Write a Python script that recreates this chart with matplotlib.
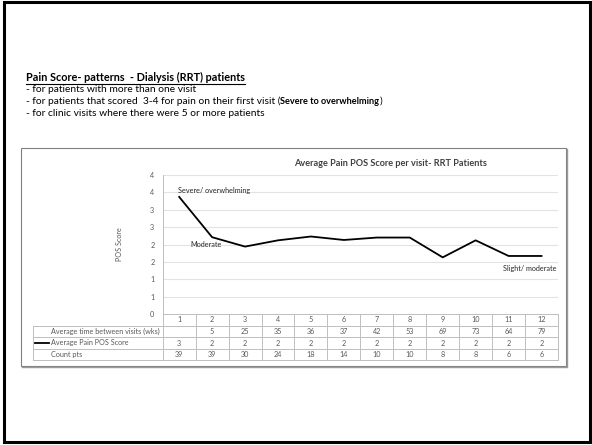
import numpy as np
import matplotlib.pyplot as plt
import matplotlib.transforms as mtransforms
from matplotlib.patches import Rectangle

visits = list(range(1, 13))
pain_score = [3.37, 2.21, 1.94, 2.12, 2.23, 2.13, 2.20, 2.20, 1.63, 2.12, 1.67, 1.67]
weeks_between = ['', '5', '25', '35', '36', '37', '42', '53', '69', '73', '64', '79']
count_pts = [39, 39, 30, 24, 18, 14, 10, 10, 8, 8, 6, 6]
row_labels = ['Average time between visits (wks)', 'Average Pain POS Score', 'Count pts']
y_ticks = np.arange(0, 4.01, 0.5)

header = 'Pain Score- patterns  - Dialysis (RRT) patients'
bullets = ['- for patients with more than one visit',
           '- for patients that scored  3-4 for pain on their first visit (',
           '- for clinic visits where there were 5 or more patients']
bold_part = 'Severe to overwhelming'

W, H = 592, 445
fs_small = 5.2
plt.rcParams['font.family'] = ['Lato', 'DejaVu Sans']
fig = plt.figure(figsize=(W / 100, H / 100), dpi=100)

# pixel overlay for slide elements
bg = fig.add_axes([0, 0, 1, 1], zorder=0)
bg.set_xlim(0, W)
bg.set_ylim(H, 0)
bg.axis('off')
bg.add_patch(Rectangle((3.5, 2), 586, 440, fill=False, ec='black', lw=2.2))
# chart box with a small shadow
bg.plot([22, 566.5, 566.5], [366.5, 366.5, 149], color='#9a9a9a', lw=1)
bg.add_patch(Rectangle((21, 148), 545, 217.5, fill=False, ec='#808080', lw=0.8))

renderer = fig.canvas.get_renderer()
t = bg.text(26, 77, header, fontsize=7.8, fontweight='bold', va='center', color='black')
bb = t.get_window_extent(renderer)
bg.plot([26, 26 + bb.width], [83.5, 83.5], color='black', lw=0.8)
for i, line in enumerate(bullets):
    y = 89 + i * 12
    t = bg.text(26, y, line, fontsize=7.4, va='center')
    if i == 1:
        x2 = 26 + t.get_window_extent(renderer).width
        t2 = bg.text(x2, y, bold_part, fontsize=6.6, va='center', fontweight='bold')
        x3 = x2 + t2.get_window_extent(renderer).width
        bg.text(x3, y, ')', fontsize=7.4, va='center')

bg.text(390, 163, 'Average Pain POS Score per visit- RRT Patients', fontsize=6.6,
        fontweight='bold', color='#404040', ha='center', va='center')

# plot area
x0, x1, ytop, ybot = 162.7, 558, 175, 314
ax = fig.add_axes([x0 / W, 1 - ybot / H, (x1 - x0) / W, (ybot - ytop) / H], zorder=1)
ax.patch.set_alpha(0)
ax.set_xlim(0.5, 12.5)
ax.set_ylim(0, 4)
ax.set_yticks(y_ticks)
ax.set_yticklabels([str(int(v + 0.5)) for v in y_ticks])
ax.set_xticks([])
ax.tick_params(axis='y', length=0, pad=6, labelsize=fs_small, labelcolor='#595959')
for s in ['top', 'right', 'bottom']:
    ax.spines[s].set_visible(False)
ax.spines['left'].set_color('#bfbfbf')
ax.spines['left'].set_linewidth(0.7)
ax.grid(axis='y', color='#e3e3e3', lw=0.8)
ax.set_axisbelow(True)
ax.set_ylabel('POS Score', fontsize=fs_small, color='#595959')
ax.yaxis.set_label_coords(-0.1, 0.5)

ax.plot(visits, pain_score, color='black', lw=1.3, clip_on=False, zorder=3)

ax.text(0.96, 3.55, 'Severe/ overwhelming', fontsize=fs_small, va='center', color='#262626')
ax.text(1.33, 1.99, 'Moderate', fontsize=fs_small, va='center', color='#262626')
ax.text(12.46, 1.30, 'Slight/ moderate', fontsize=fs_small, va='center', ha='right', color='#262626')

# data table under the axis
trans = mtransforms.blended_transform_factory(ax.transData, ax.transAxes)
ah = ybot - ytop
colw = (x1 - x0) / 12
rows_px = [0, 11.6, 23.3, 34.7, 46]
rows = [-r / ah for r in rows_px]
left = 0.5 - (x0 - 33.3) / colw
lc = '#bfbfbf'
kw = dict(transform=trans, clip_on=False, color=lc, lw=0.7)
ax.plot([0.5, 12.5], [rows[0], rows[0]], **kw)
for r in rows[1:]:
    ax.plot([left, 12.5], [r, r], **kw)
for k in range(13):
    ax.plot([0.5 + k, 0.5 + k], [rows[0], rows[-1]], **kw)
ax.plot([left, left], [rows[1], rows[-1]], **kw)

cell_rows = [[str(v) for v in visits], weeks_between,
             [str(int(v + 0.5)) for v in pain_score], [str(c) for c in count_pts]]
for ri, vals in enumerate(cell_rows):
    yc = (rows[ri] + rows[ri + 1]) / 2
    for v, val in zip(visits, vals):
        ax.text(v, yc, val, transform=trans, ha='center', va='center',
                fontsize=fs_small, color='#595959')
for ri, lab in enumerate(row_labels):
    yc = (rows[ri + 1] + rows[ri + 2]) / 2
    ax.text(left + 17.7 / colw, yc, lab, transform=trans, ha='left', va='center',
            fontsize=fs_small, color='#595959')
yk = (rows[2] + rows[3]) / 2
ax.plot([left + 1.7 / colw, left + 15.7 / colw], [yk, yk], transform=trans,
        clip_on=False, color='black', lw=1.3)

fig.savefig('out.png', dpi=100)
